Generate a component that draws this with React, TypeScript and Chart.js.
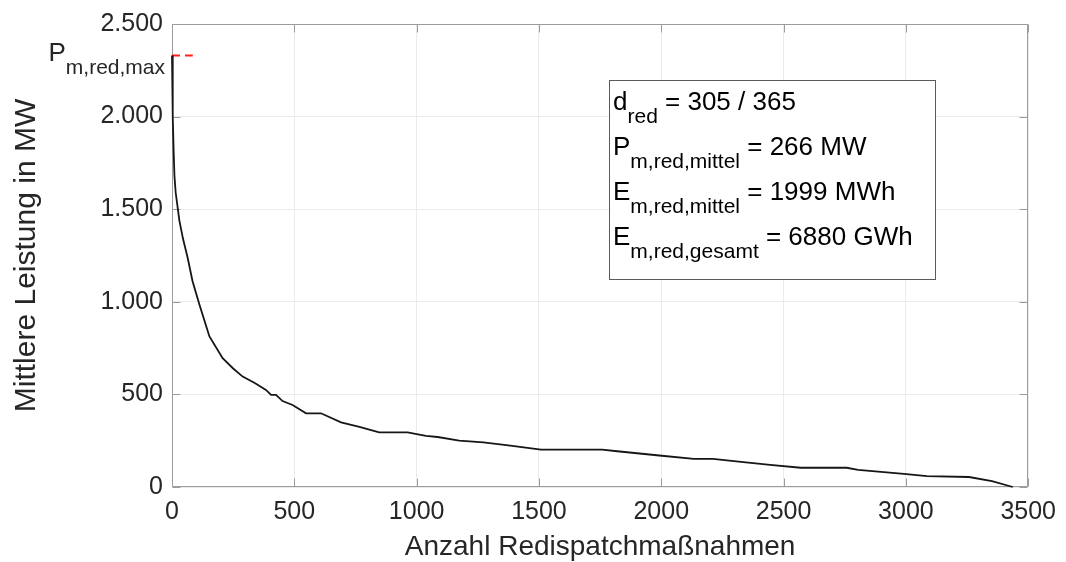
import React, { useEffect, useRef } from 'react';
import { Chart, registerables } from 'chart.js';

Chart.register(...registerables);

// ---- data ----
const anzahl = [
  0, 2, 4, 7, 10, 15, 22, 30, 45, 64, 84, 112, 153, 207, 250, 289, 340, 384, 405, 425, 452, 493,
  548, 609, 691, 766, 847, 963, 1038, 1086, 1174, 1273, 1383, 1508, 1758, 1820, 1992, 2133, 2211,
  2336, 2445, 2570, 2758, 2805, 2992, 3086, 3258, 3352, 3437,
];
const leistung = [
  2330, 2150, 2000, 1800, 1680, 1590, 1520, 1440, 1340, 1238, 1111, 985, 813, 696, 640, 596, 560,
  524, 497, 497, 464, 443, 398, 398, 349, 325, 295, 295, 276, 270, 250, 241, 223, 202, 202, 193,
  170, 152, 152, 134, 120, 104, 104, 93, 71, 59, 54, 32, 0,
];
const pMaxX = [0, 85];
const pMaxY = [2330, 2330];

const xTickValues = [0, 500, 1000, 1500, 2000, 2500, 3000, 3500];
const yTickValues = [0, 500, 1000, 1500, 2000, 2500];

const xTitle = 'Anzahl Redispatchmaßnahmen';
const yTitle = 'Mittlere Leistung in MW';

const pMaxLabel = { main: 'P', sub: 'm,red,max' };
const infoLines = [
  { main: 'd', sub: 'red', rest: ' = 305 / 365' },
  { main: 'P', sub: 'm,red,mittel', rest: ' = 266 MW' },
  { main: 'E', sub: 'm,red,mittel', rest: ' = 1999 MWh' },
  { main: 'E', sub: 'm,red,gesamt', rest: ' = 6880 GWh' },
];

const FONT = '"Liberation Sans", Arial, Helvetica, sans-serif';
const TEXT = '#262626';
const AXIS = '#9c9c9c';
const GRID = '#ebebeb';

const fmtDE = (v: number) => String(v).replace(/\B(?=(\d{3})+(?!\d))/g, '.');

const decorPlugin = {
  id: 'decor',
  beforeDatasetsDraw(chart: any) {
    const { ctx, chartArea } = chart;
    const { left, right, top, bottom } = chartArea;
    const xs = chart.scales.x;
    const ys = chart.scales.y;
    ctx.save();
    ctx.strokeStyle = AXIS;
    ctx.lineWidth = 1;
    const L = Math.round(left) + 0.5;
    const R = Math.round(right) - 0.5;
    const T = Math.round(top) + 0.5;
    const B = Math.round(bottom) - 0.5;
    ctx.beginPath();
    ctx.rect(L, T, R - L, B - T);
    const tl = 8;
    xTickValues.forEach((v) => {
      const px = Math.round(xs.getPixelForValue(v)) + 0.5;
      ctx.moveTo(px, B);
      ctx.lineTo(px, B - tl);
      ctx.moveTo(px, T);
      ctx.lineTo(px, T + tl);
    });
    yTickValues.forEach((v) => {
      const py = Math.round(ys.getPixelForValue(v)) + 0.5;
      ctx.moveTo(L, py);
      ctx.lineTo(L + tl, py);
      ctx.moveTo(R, py);
      ctx.lineTo(R - tl, py);
    });
    ctx.stroke();
    ctx.restore();
  },
  afterDraw(chart: any) {
    const { ctx, chartArea } = chart;
    const ys = chart.scales.y;
    ctx.save();
    ctx.fillStyle = TEXT;
    ctx.textBaseline = 'alphabetic';
    ctx.textAlign = 'left';

    // P_m,red,max label left of the axis
    const mainFont = `26px ${FONT}`;
    const subFont = `21px ${FONT}`;
    ctx.font = mainFont;
    const pw = ctx.measureText(pMaxLabel.main).width;
    ctx.font = subFont;
    const sw = ctx.measureText(pMaxLabel.sub).width;
    const pBase = ys.getPixelForValue(pMaxY[0]) + 6;
    const pRight = chartArea.left - 7;
    const pStart = pRight - sw - pw;
    ctx.font = mainFont;
    ctx.fillText(pMaxLabel.main, pStart, pBase);
    ctx.font = subFont;
    ctx.fillText(pMaxLabel.sub, pStart + pw, pBase + 12.5);

    // info box
    const bx = 609, by = 80, bw = 326, bh = 199;
    ctx.fillStyle = '#ffffff';
    ctx.fillRect(bx, by, bw, bh);
    ctx.strokeStyle = '#5a5a5a';
    ctx.lineWidth = 1;
    ctx.strokeRect(bx + 0.5, by + 0.5, bw, bh);
    ctx.fillStyle = '#000000';
    infoLines.forEach((ln, i) => {
      const base = 110 + 45 * i;
      let x = bx + 4;
      ctx.font = mainFont;
      ctx.fillText(ln.main, x, base);
      x += ctx.measureText(ln.main).width;
      ctx.font = subFont;
      ctx.fillText(ln.sub, x, base + 12.5);
      x += ctx.measureText(ln.sub).width;
      ctx.font = mainFont;
      ctx.fillText(ln.rest, x, base);
    });
    ctx.restore();
  },
};

export default function App() {
  const ref = useRef<HTMLCanvasElement>(null);
  useEffect(() => {
    if (!ref.current) return;
    const chart = new Chart(ref.current, {
      type: 'scatter',
      data: {
        datasets: [
          {
            data: anzahl.map((x, i) => ({ x, y: leistung[i] })),
            showLine: true,
            borderColor: '#161616',
            borderWidth: 1.8,
            pointRadius: 0,
            tension: 0,
            clip: false as any,
          },
          {
            data: pMaxX.map((x, i) => ({ x, y: pMaxY[i] })),
            showLine: true,
            borderColor: '#ff1f1f',
            borderWidth: 2,
            borderDash: [8, 5],
            pointRadius: 0,
            clip: false as any,
          },
        ],
      },
      options: {
        animation: false,
        responsive: true,
        maintainAspectRatio: false,
        layout: { padding: { left: 0, top: 23, right: 35, bottom: 0 } },
        plugins: { legend: { display: false }, tooltip: { enabled: false } },
        scales: {
          x: {
            type: 'linear',
            min: 0,
            max: 3500,
            afterBuildTicks: (s: any) => {
              s.ticks = xTickValues.map((value) => ({ value }));
            },
            afterFit: (s: any) => {
              s.height = 75;
            },
            ticks: {
              font: { family: FONT, size: 25 },
              color: TEXT,
              padding: 10,
              maxRotation: 0,
              callback: (v: any) => String(v),
            },
            grid: { color: GRID, drawTicks: false, lineWidth: 1 },
            border: { display: false },
            title: {
              display: true,
              text: xTitle,
              color: TEXT,
              font: { family: FONT, size: 28, lineHeight: 1 },
              padding: { top: 0, bottom: 1 },
            },
          },
          y: {
            type: 'linear',
            min: 0,
            max: 2500,
            afterBuildTicks: (s: any) => {
              s.ticks = yTickValues.map((value) => ({ value }));
            },
            afterFit: (s: any) => {
              s.width = 172;
            },
            ticks: {
              font: { family: FONT, size: 25 },
              color: TEXT,
              padding: 9,
              callback: (v: any) => fmtDE(Number(v)),
            },
            grid: { color: GRID, drawTicks: false, lineWidth: 1 },
            border: { display: false },
            title: {
              display: true,
              text: yTitle,
              color: TEXT,
              font: { family: FONT, size: 30, lineHeight: 1 },
              padding: { top: 12, bottom: 0 },
            },
          },
        },
      },
      plugins: [decorPlugin],
    });
    return () => chart.destroy();
  }, []);
  return (
    <div style={{ position: 'fixed', left: 0, top: 0, width: 1066, height: 562, background: '#ffffff' }}>
      <canvas ref={ref} />
    </div>
  );
}
